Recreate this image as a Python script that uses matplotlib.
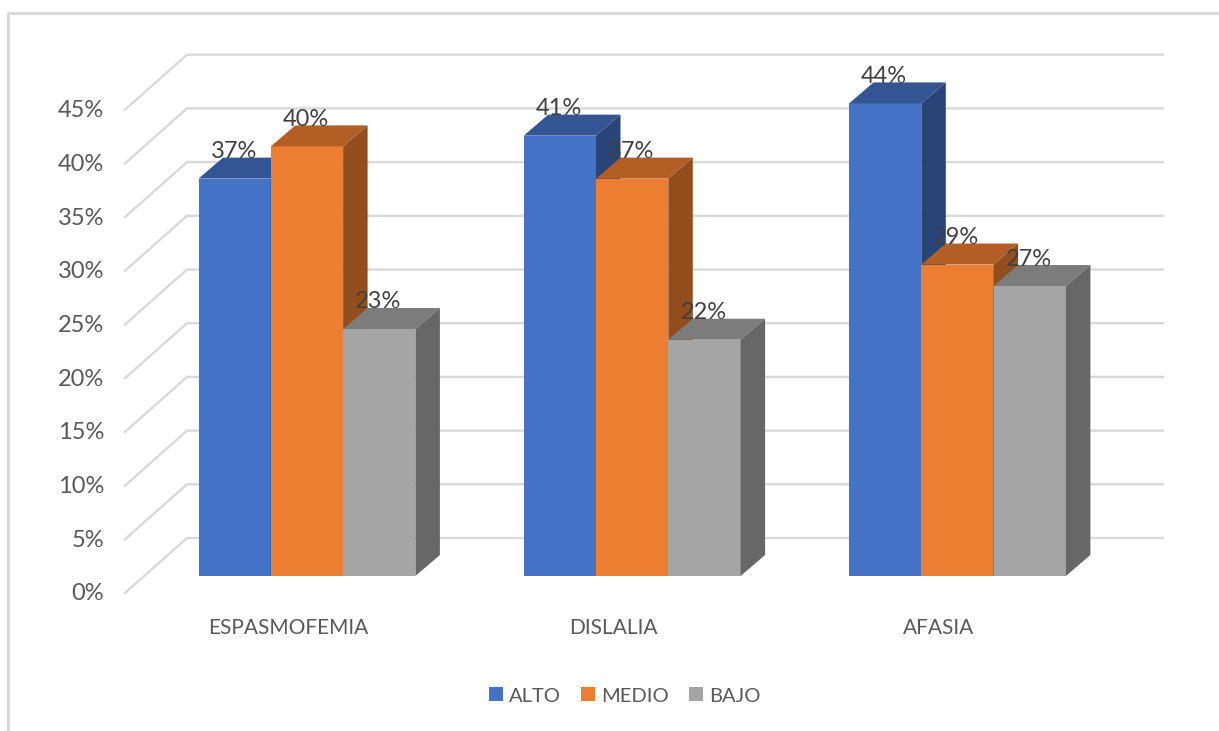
import matplotlib
matplotlib.use('Agg')
import matplotlib.pyplot as plt
from matplotlib.patches import Patch, Polygon

# Data
categories = ['ESPASMOFEMIA', 'DISLALIA', 'AFASIA']
series_names = ['ALTO', 'MEDIO', 'BAJO']
alto = [37, 41, 44]
medio = [40, 37, 29]
bajo = [23, 22, 27]
y_ticks = [0, 5, 10, 15, 20, 25, 30, 35, 40, 45]

# front, top, side shades
colors = {
    'ALTO': ('#4472c4', '#335593', '#284478'),
    'MEDIO': ('#ed7d31', '#b25e24', '#934e1d'),
    'BAJO': ('#a5a5a5', '#7c7c7c', '#676767'),
}
text_color = '#595959'
label_color = '#404040'
grid_color = '#d9d9d9'

plt.rcParams['font.family'] = ['Lato', 'DejaVu Sans']

W, H = 1219, 731
PX = 10.74  # pixels for one percent
BASE = 576  # pixel row of the bars' base


def py(row):
    # pixel row to percent value
    return (BASE - row) / PX


fig = plt.figure(figsize=(W / 100, H / 100), dpi=100)
ax = fig.add_axes([0, 0, 1, 1])
ax.set_xlim(0, W)
ax.set_ylim(py(H), py(0))
ax.axis('off')

# outer frame, open on the right and at the bottom
ax.plot([8, 8, W], [py(H), py(13), py(13)], color=grid_color, lw=2.2)

# floor and wall grid
wall_x = 187
wall_end = 1163
front_x = 125
wall_off = py(538)
front_off = py(593)
for t in y_ticks:
    ax.plot([front_x, wall_x, wall_end], [t + front_off, t + wall_off, t + wall_off],
            color=grid_color, lw=1.7, solid_joinstyle='miter')
    ax.text(104, t + py(594), f'{t}%', ha='right', va='center', fontsize=17, color=text_color)

# bars
bar_w = 72.3
group_x = [198.5, 523.7, 849]
depth_x = 24.5
depth_y = 21 / PX
values = [alto, medio, bajo]

for g, x0 in enumerate(group_x):
    for s, name in enumerate(series_names):
        v = values[s][g]
        left = x0 + s * bar_w
        right = left + bar_w
        front, top, side = colors[name]
        ax.add_patch(Polygon([(left, 0), (right, 0), (right, v), (left, v)], closed=True, fc=front, ec='none', zorder=3))
        ax.add_patch(Polygon([(left, v), (right, v), (right + depth_x, v + depth_y), (left + depth_x, v + depth_y)],
                             closed=True, fc=top, ec='none', zorder=3))
        ax.add_patch(Polygon([(right, 0), (right + depth_x, depth_y), (right + depth_x, v + depth_y), (right, v)],
                             closed=True, fc=side, ec='none', zorder=3))

# value labels go over the bars
for g, x0 in enumerate(group_x):
    for s in range(3):
        v = values[s][g]
        ax.text(x0 + (s + 0.5) * bar_w - 1, v + depth_y + 6 / PX, f'{v}%', ha='center', va='center',
                fontsize=17, color=label_color, zorder=5)

# category labels
for g, x0 in enumerate(group_x):
    ax.text(x0 + 1.5 * bar_w - 19, py(628), categories[g], ha='center', va='center',
            fontsize=15, color=text_color)

handles = [Patch(facecolor=colors[n][0], edgecolor='none', label=n) for n in series_names]
ax.legend(handles=handles, ncol=3, loc='center', bbox_to_anchor=(625 / W, 1 - 696 / H), frameon=False,
          fontsize=14.5, labelcolor=text_color, handlelength=0.69, handleheight=0.69,
          handletextpad=0.3, columnspacing=1.0)

fig.savefig('out.png', dpi=100)
